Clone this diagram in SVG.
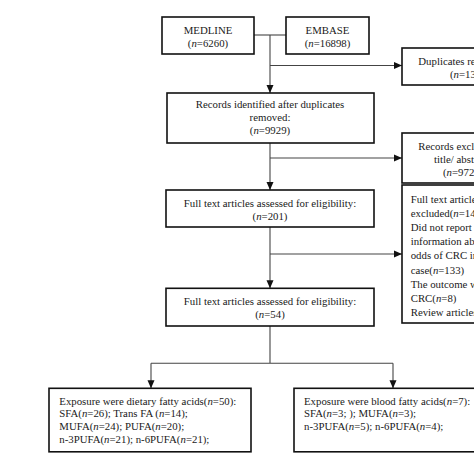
<svg xmlns="http://www.w3.org/2000/svg" width="474" height="474" viewBox="0 0 474 474">
<defs>
<style>
.box{fill:#fff;stroke:#111;stroke-width:1.6}
.c{fill:none;stroke:#444;stroke-width:1.1}
text{font-family:"Liberation Serif","Times New Roman",serif;font-size:10.8px;fill:#1a1a1a}
.m{text-anchor:middle}
.i{font-style:italic}
</style>
<marker id="ah" markerUnits="userSpaceOnUse" markerWidth="8" markerHeight="8" viewBox="0 0 8 8" refX="8" refY="4" orient="auto">
<path d="M0,0.5 L8,4 L0,7.5 Z" fill="#111"/>
</marker>
</defs>
<rect width="474" height="474" fill="#fff"/>
<g id="connectors">
<path class="c" d="M254,35 H286"/>
<path class="c" d="M270,35 V93" marker-end="url(#ah)"/>
<path class="c" d="M270,65.5 H402" marker-end="url(#ah)"/>
<path class="c" d="M270,143 V190" marker-end="url(#ah)"/>
<path class="c" d="M270,158 H402" marker-end="url(#ah)"/>
<path class="c" d="M270,227 V288.3" marker-end="url(#ah)"/>
<path class="c" d="M270,254 H402" marker-end="url(#ah)"/>
<path class="c" d="M270,326 V363.3 M151,363.3 H393"/>
<path class="c" d="M151,363.3 V388.3" marker-end="url(#ah)"/>
<path class="c" d="M393,363.3 V388.3" marker-end="url(#ah)"/>
</g>
<g id="medline">
<rect class="box" x="162" y="17" width="92" height="37"/>
<text class="m" x="208" y="34">MEDLINE</text>
<text class="m" x="208" y="47">(<tspan class="i">n</tspan>=6260)</text>
</g>
<g id="embase">
<rect class="box" x="286" y="17" width="83" height="37"/>
<text class="m" x="327.5" y="34">EMBASE</text>
<text class="m" x="327.5" y="47">(<tspan class="i">n</tspan>=16898)</text>
</g>
<g id="duplicates">
<rect class="box" x="402" y="48" width="90" height="37"/>
<text x="418.3" y="65">Duplicates removed</text>
<text x="450" y="78">(<tspan class="i">n</tspan>=13229)</text>
</g>
<g id="records-identified">
<rect class="box" x="167" y="93" width="207" height="50"/>
<text class="m" x="270" y="108">Records identified after duplicates</text>
<text class="m" x="270" y="121">removed:</text>
<text class="m" x="270" y="134">(<tspan class="i">n</tspan>=9929)</text>
</g>
<g id="records-excluded">
<rect class="box" x="402" y="133" width="90" height="50"/>
<text x="418.3" y="150">Records excluded by</text>
<text x="434" y="163">title/ abstract</text>
<text x="443" y="176">(<tspan class="i">n</tspan>=9728)</text>
</g>
<g id="fulltext-1">
<rect class="box" x="166" y="190" width="208" height="37"/>
<text class="m" x="270" y="207">Full text articles assessed for eligibility:</text>
<text class="m" x="270" y="220">(<tspan class="i">n</tspan>=201)</text>
</g>
<g id="fulltext-excluded">
<rect class="box" x="402" y="185" width="90" height="138"/>
<text x="410.7" y="202.5">Full text articles</text>
<text x="410.7" y="216.7">excluded(<tspan class="i">n</tspan>=147):</text>
<text x="410.7" y="230.9">Did not report</text>
<text x="410.7" y="245.1">information about</text>
<text x="410.7" y="259.3">odds of CRC in</text>
<text x="410.7" y="273.5">case(<tspan class="i">n</tspan>=133)</text>
<text x="410.7" y="287.7">The outcome was not</text>
<text x="410.7" y="301.9">CRC(<tspan class="i">n</tspan>=8)</text>
<text x="410.7" y="316">Review articles(<tspan class="i">n</tspan>=6)</text>
</g>
<g id="fulltext-2">
<rect class="box" x="166" y="288.3" width="208" height="37.7"/>
<text class="m" x="270" y="304.5">Full text articles assessed for eligibility:</text>
<text class="m" x="270" y="318">(<tspan class="i">n</tspan>=54)</text>
</g>
<g id="dietary">
<rect class="box" x="49" y="388.3" width="202" height="63.5"/>
<text x="59.3" y="404.5">Exposure were dietary fatty acids(<tspan class="i">n</tspan>=50):</text>
<text x="59.3" y="417.3">SFA(<tspan class="i">n</tspan>=26); Trans FA (<tspan class="i">n</tspan>=14);</text>
<text x="59.3" y="430">MUFA(<tspan class="i">n</tspan>=24); PUFA(<tspan class="i">n</tspan>=20);</text>
<text x="59.3" y="442.7">n-3PUFA(<tspan class="i">n</tspan>=21); n-6PUFA(<tspan class="i">n</tspan>=21);</text>
</g>
<g id="blood">
<rect class="box" x="294" y="388.3" width="190" height="63.5"/>
<text x="304" y="404.5">Exposure were blood fatty acids(<tspan class="i">n</tspan>=7):</text>
<text x="304" y="417.3">SFA(<tspan class="i">n</tspan>=3; ); MUFA(<tspan class="i">n</tspan>=3);</text>
<text x="304" y="430">n-3PUFA(<tspan class="i">n</tspan>=5); n-6PUFA(<tspan class="i">n</tspan>=4);</text>
</g>
</svg>
